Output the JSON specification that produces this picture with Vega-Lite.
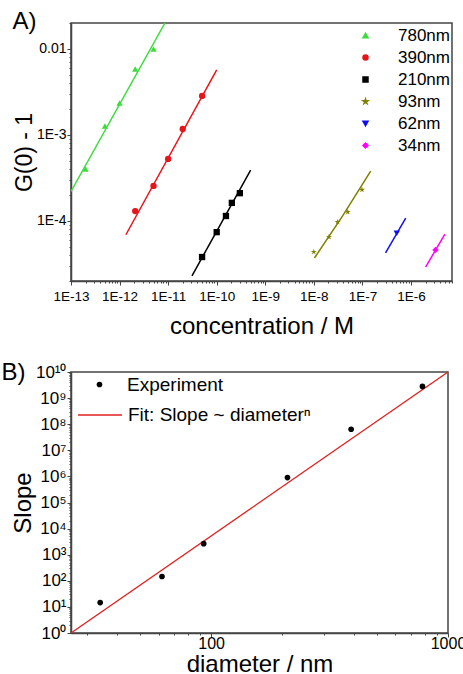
{
  "$schema": "https://vega.github.io/schema/vega-lite/v6.json",
  "padding": {"left": 0, "top": 9, "right": 5, "bottom": 0},
  "spacing": 20,
  "resolve": {"scale": {"color": "independent", "shape": "independent", "stroke": "independent"}},
  "config": {
    "font": "Liberation Sans",
    "view": {"stroke": "#444", "strokeWidth": 1.5},
    "axis": {"grid": false, "domainColor": "#444", "domainWidth": 1.5, "tickColor": "#444", "tickWidth": 1, "labelColor": "black", "titleColor": "black", "titleFontWeight": "normal", "labelFont": "Liberation Sans", "titleFont": "Liberation Sans", "labelOverlap": false, "labelFlush": false, "labelBound": false},
    "legend": {"labelFont": "Liberation Sans", "labelColor": "black", "labelLimit": 400}
  },
  "datasets": {
    "pts": [
      {"size": "780nm", "conc": 2e-13, "g": 4.0e-4},
      {"size": "780nm", "conc": 5e-13, "g": 1.27e-3},
      {"size": "780nm", "conc": 1e-12, "g": 2.35e-3},
      {"size": "780nm", "conc": 2.1e-12, "g": 5.85e-3},
      {"size": "780nm", "conc": 5e-12, "g": 1.0e-2},
      {"size": "390nm", "conc": 2.1e-12, "g": 1.3e-4},
      {"size": "390nm", "conc": 5e-12, "g": 2.55e-4},
      {"size": "390nm", "conc": 1e-11, "g": 5.26e-4},
      {"size": "390nm", "conc": 2e-11, "g": 1.17e-3},
      {"size": "390nm", "conc": 5e-11, "g": 2.84e-3},
      {"size": "210nm", "conc": 5e-11, "g": 3.8e-5},
      {"size": "210nm", "conc": 1e-10, "g": 7.4e-5},
      {"size": "210nm", "conc": 1.55e-10, "g": 1.14e-4},
      {"size": "210nm", "conc": 2.05e-10, "g": 1.62e-4},
      {"size": "210nm", "conc": 3e-10, "g": 2.1e-4},
      {"size": "93nm", "conc": 1e-8, "g": 4.36e-5},
      {"size": "93nm", "conc": 2.05e-8, "g": 6.5e-5},
      {"size": "93nm", "conc": 3.1e-8, "g": 9.7e-5},
      {"size": "93nm", "conc": 5e-8, "g": 1.27e-4},
      {"size": "93nm", "conc": 9.8e-8, "g": 2.3e-4},
      {"size": "62nm", "conc": 5.1e-7, "g": 7.2e-5},
      {"size": "34nm", "conc": 3.2e-6, "g": 4.6e-5}
    ],
    "fits": [
      {"size": "780nm", "conc": 1e-13, "g": 2.2e-4},
      {"size": "780nm", "conc": 8.6e-12, "g": 0.02},
      {"size": "390nm", "conc": 1.35e-12, "g": 6.9e-5},
      {"size": "390nm", "conc": 1e-10, "g": 5.7e-3},
      {"size": "210nm", "conc": 3.1e-11, "g": 2.3e-5},
      {"size": "210nm", "conc": 5e-10, "g": 3.9e-4},
      {"size": "93nm", "conc": 1.03e-8, "g": 3.7e-5},
      {"size": "93nm", "conc": 3.95e-8, "g": 1.15e-4},
      {"size": "93nm", "conc": 1.48e-7, "g": 3.8e-4},
      {"size": "62nm", "conc": 3.0e-7, "g": 4.25e-5},
      {"size": "62nm", "conc": 7.8e-7, "g": 1.08e-4},
      {"size": "34nm", "conc": 2.0e-6, "g": 2.9e-5},
      {"size": "34nm", "conc": 5.0e-6, "g": 7.0e-5}
    ],
    "exp": [
      {"series": "Experiment", "diameter": 34, "slope": 14.6},
      {"series": "Experiment", "diameter": 62, "slope": 146},
      {"series": "Experiment", "diameter": 93, "slope": 2650},
      {"series": "Experiment", "diameter": 210, "slope": 900000},
      {"series": "Experiment", "diameter": 390, "slope": 64000000},
      {"series": "Experiment", "diameter": 780, "slope": 2800000000}
    ],
    "fitline": [
      {"series": "Fit: Slope ~ diameterⁿ", "diameter": 25.6, "slope": 1},
      {"series": "Fit: Slope ~ diameterⁿ", "diameter": 1000, "slope": 10000000000}
    ]
  },
  "vconcat": [
    {
      "width": 381,
      "height": 258,
      "title": {"text": "A)", "anchor": "start", "frame": "bounds", "fontSize": 24, "fontWeight": "normal", "font": "Liberation Sans", "color": "black", "offset": -18, "dx": -1},
      "layer": [
        {
          "data": {"name": "fits"},
          "mark": {"type": "line", "strokeWidth": 1.5, "clip": true},
          "encoding": {
            "x": {"field": "conc", "type": "quantitative"},
            "y": {"field": "g", "type": "quantitative"},
            "color": {"field": "size", "type": "nominal"}
          }
        },
        {
          "data": {"name": "pts"},
          "mark": {"type": "point", "filled": true, "opacity": 1, "size": 40},
          "encoding": {
            "x": {"field": "conc", "type": "quantitative",
              "scale": {"type": "log", "domain": [1e-13, 7e-6], "nice": false, "zero": false},
              "axis": {"title": "concentration / M", "titleFontSize": 24, "titlePadding": 12, "labelFontSize": 13.5, "labelPadding": 4, "tickCount": 50, "labelOverlap": false,
                "labelExpr": "abs(log(datum.value)/LN10 - round(log(datum.value)/LN10)) < 0.01 ? '1E' + round(log(datum.value)/LN10) : ''",
                "tickSize": {"condition": {"test": "abs(log(datum.value)/LN10 - round(log(datum.value)/LN10)) < 0.01", "value": 4}, "value": 2}}},
            "y": {"field": "g", "type": "quantitative",
              "scale": {"type": "log", "domain": [2e-5, 0.02], "nice": false, "zero": false},
              "axis": {"title": "G(0) - 1", "titleFontSize": 23, "titlePadding": 0, "labelFontSize": 14, "labelPadding": 1, "tickCount": 30, "labelOverlap": false,
                "labelExpr": "abs(log(datum.value)/LN10 - round(log(datum.value)/LN10)) < 0.01 ? (round(log(datum.value)/LN10) == -2 ? '0.01' : '1E' + round(log(datum.value)/LN10)) : ''",
                "tickSize": {"condition": {"test": "abs(log(datum.value)/LN10 - round(log(datum.value)/LN10)) < 0.01", "value": 4}, "value": 2}}},
            "color": {"field": "size", "type": "nominal",
              "scale": {"domain": ["780nm", "390nm", "210nm", "93nm", "62nm", "34nm"], "range": ["#3ddc3d", "#e8141a", "#000000", "#808000", "#1010ee", "#ff00ff"]},
              "legend": {"title": null, "orient": "none", "legendX": 286, "legendY": 4, "labelFontSize": 17, "labelOffset": 24, "rowPadding": 4, "symbolSize": 25, "padding": 0}},
            "shape": {"field": "size", "type": "nominal",
              "scale": {"domain": ["780nm", "390nm", "210nm", "93nm", "62nm", "34nm"], "range": ["triangle-up", "circle", "square", "M0,-1L0.2245,-0.309L0.951,-0.309L0.363,0.118L0.588,0.809L0,0.382L-0.588,0.809L-0.363,0.118L-0.951,-0.309L-0.2245,-0.309Z", "triangle-down", "diamond"]},
              "legend": {"title": null, "orient": "none", "legendX": 286, "legendY": 4, "labelFontSize": 17, "labelOffset": 24, "rowPadding": 4, "symbolSize": 25, "padding": 0}}
          }
        }
      ]
    },
    {
      "width": 377,
      "height": 261,
      "title": {"text": "B)", "anchor": "start", "frame": "bounds", "fontSize": 24, "fontWeight": "normal", "font": "Liberation Sans", "color": "black", "offset": -22, "dx": -10},
      "layer": [
        {
          "data": {"name": "fitline"},
          "mark": {"type": "line", "strokeWidth": 1.3, "clip": true},
          "encoding": {
            "x": {"field": "diameter", "type": "quantitative"},
            "y": {"field": "slope", "type": "quantitative"},
            "stroke": {"field": "series", "type": "nominal",
              "scale": {"domain": ["Fit: Slope ~ diameterⁿ"], "range": ["#e02020"]},
              "legend": {"title": null, "orient": "none", "legendX": 6, "legendY": 20, "labelFontSize": 19, "labelOffset": 5, "symbolSize": 1936, "symbolStrokeWidth": 1.5, "padding": 0}}
          }
        },
        {
          "data": {"name": "exp"},
          "mark": {"type": "circle", "opacity": 1, "size": 32},
          "encoding": {
            "x": {"field": "diameter", "type": "quantitative",
              "scale": {"type": "log", "domain": [25.6, 1000], "nice": false, "zero": false},
              "axis": {"title": "diameter / nm", "titleFontSize": 24, "titlePadding": 1, "labelFontSize": 16, "labelPadding": -2, "tickCount": 20, "labelOverlap": false,
                "labelExpr": "abs(log(datum.value)/LN10 - round(log(datum.value)/LN10)) < 0.01 ? format(datum.value, 'd') : ''",
                "tickSize": {"condition": {"test": "abs(log(datum.value)/LN10 - round(log(datum.value)/LN10)) < 0.01", "value": 4}, "value": 2}}},
            "y": {"field": "slope", "type": "quantitative",
              "scale": {"type": "log", "domain": [1, 10000000000], "nice": false, "zero": false},
              "axis": {"title": "Slope", "titleFontSize": 24, "titlePadding": 0, "labelFontSize": 17, "labelPadding": 1, "tickCount": 50, "labelOverlap": false,
                "labelExpr": "abs(log(datum.value)/LN10 - round(log(datum.value)/LN10)) < 0.01 ? '10' + ['⁰','¹','²','³','⁴','⁵','⁶','⁷','⁸','⁹','¹⁰'][round(log(datum.value)/LN10)] : ''",
                "tickSize": {"condition": {"test": "abs(log(datum.value)/LN10 - round(log(datum.value)/LN10)) < 0.01", "value": 4}, "value": 2}}},
            "color": {"field": "series", "type": "nominal",
              "scale": {"domain": ["Experiment"], "range": ["#000000"]},
              "legend": {"title": null, "orient": "none", "legendX": 19, "legendY": 3, "labelFontSize": 19, "labelOffset": 18, "symbolSize": 32, "symbolType": "circle", "padding": 0}}
          }
        }
      ]
    }
  ]
}
